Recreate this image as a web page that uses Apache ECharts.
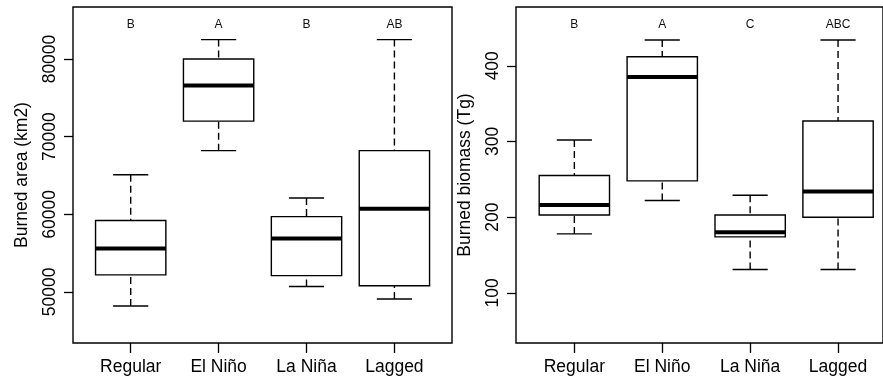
<!DOCTYPE html>
<html>
<head>
<meta charset="utf-8">
<script src="https://cdn.jsdelivr.net/npm/echarts@6/dist/echarts.min.js"></script>
<style>
html,body{margin:0;padding:0;background:#fff;}
#chart{width:883px;height:380px;}
</style>
</head>
<body>
<div id="chart"></div>
<script>
// Categories
const categories = ['Regular', 'El Niño', 'La Niña', 'Lagged'];

// Burned area (km2): [lower whisker, Q1, median, Q3, upper whisker]
const areaRegular = [48200, 52200, 55600, 59200, 65100];
const areaElNino  = [68200, 72000, 76600, 80000, 82500];
const areaLaNina  = [50700, 52100, 56900, 59700, 62100];
const areaLagged  = [49100, 50800, 60700, 68200, 82500];
const areaLetters = ['B', 'A', 'B', 'AB'];
const areaTicks = [50000, 60000, 70000, 80000];

// Burned biomass (Tg): [lower whisker, Q1, median, Q3, upper whisker]
const bioRegular = [178, 203, 216, 255, 302];
const bioElNino  = [222, 248, 385, 412, 434];
const bioLaNina  = [131, 174, 180, 203, 229];
const bioLagged  = [131, 200, 234, 327, 434];
const bioLetters = ['B', 'A', 'C', 'ABC'];
const bioTicks = [100, 200, 300, 400];

const FONT = '"Liberation Sans", Arial, Helvetica, sans-serif';

function rows(list) {
  return list.map((v, i) => [i].concat(v));
}

function makeRender(letters) {
  return function (params, api) {
    const i = api.value(0);
    const lo = api.coord([i, api.value(1)]);
    const q1 = api.coord([i, api.value(2)]);
    const md = api.coord([i, api.value(3)]);
    const q3 = api.coord([i, api.value(4)]);
    const hi = api.coord([i, api.value(5)]);
    const band = api.size([1, 0])[0];
    const cx = md[0];
    const hw = band * 0.4, cw = band * 0.2;
    const stroke = '#000';
    return {
      type: 'group',
      children: [
        {type: 'line', shape: {x1: cx, y1: hi[1], x2: cx, y2: q3[1]},
         style: {stroke, lineWidth: 1.4, lineDash: [7, 4]}},
        {type: 'line', shape: {x1: cx, y1: lo[1], x2: cx, y2: q1[1]},
         style: {stroke, lineWidth: 1.4, lineDash: [7, 4]}},
        {type: 'line', shape: {x1: cx - cw, y1: hi[1], x2: cx + cw, y2: hi[1]},
         style: {stroke, lineWidth: 1.4}},
        {type: 'line', shape: {x1: cx - cw, y1: lo[1], x2: cx + cw, y2: lo[1]},
         style: {stroke, lineWidth: 1.4}},
        {type: 'rect', shape: {x: cx - hw, y: q3[1], width: 2 * hw, height: q1[1] - q3[1]},
         style: {fill: '#fff', stroke, lineWidth: 1.4}},
        {type: 'line', shape: {x1: cx - hw, y1: md[1], x2: cx + hw, y2: md[1]},
         style: {stroke, lineWidth: 4}},
        {type: 'text', x: cx, y: params.coordSys.y + 18,
         style: {text: letters[i], fill: '#111', font: '12px ' + FONT,
                 align: 'center', verticalAlign: 'middle'}}
      ]
    };
  };
}

const chart = echarts.init(document.getElementById('chart'), null, {renderer: 'canvas'});

const TOP = 7, H = 336, FW = 379, DW = 351.6;
const LFL = 73, LDL = 86.75, RFL = 516, RDL = 530.4;

function frameY(min, max, ticks, name) {
  return {
    type: 'value', min, max, splitLine: {show: false},
    axisLine: {show: false},
    axisTick: {show: true, length: 9, customValues: ticks, lineStyle: {color: '#000', width: 1.3}},
    axisLabel: {customValues: ticks, rotate: 90, margin: 14, fontSize: 17.5,
                fontFamily: FONT, color: '#000', formatter: v => String(v)},
    name, nameLocation: 'middle', nameGap: 42,
    nameTextStyle: {fontSize: 17.5, fontFamily: FONT, color: '#000'}
  };
}
function hiddenY(min, max, gi) {
  return {type: 'value', gridIndex: gi, min, max, show: false, splitLine: {show: false}};
}
function catX(gi) {
  return {
    type: 'category', gridIndex: gi, data: categories,
    axisLine: {show: false},
    axisTick: {show: true, alignWithLabel: true, length: 10, lineStyle: {color: '#000', width: 1.3}},
    axisLabel: {fontSize: 17.5, fontFamily: FONT, color: '#000', margin: 15},
    splitLine: {show: false}
  };
}

const aMin = 43425, aMax = 86700, bMin = 33.9, bMax = 477.6;

const yL = frameY(aMin, aMax, areaTicks, 'Burned area (km2)'); yL.gridIndex = 0;
const yR = frameY(bMin, bMax, bioTicks, 'Burned biomass (Tg)'); yR.gridIndex = 2;

chart.setOption({
  animation: false,
  backgroundColor: '#fff',
  textStyle: {fontFamily: FONT},
  grid: [
    {left: LFL, top: TOP, width: FW, height: H, show: true, borderColor: '#000', borderWidth: 1.4, backgroundColor: 'transparent'},
    {left: LDL, top: TOP, width: DW, height: H},
    {left: RFL, top: TOP, width: FW, height: H, show: true, borderColor: '#000', borderWidth: 1.4, backgroundColor: 'transparent'},
    {left: RDL, top: TOP, width: DW, height: H}
  ],
  xAxis: [
    {type: 'value', gridIndex: 0, min: 0, max: 1, show: false},
    catX(1),
    {type: 'value', gridIndex: 2, min: 0, max: 1, show: false},
    catX(3)
  ],
  yAxis: [
    yL,
    hiddenY(aMin, aMax, 1),
    yR,
    hiddenY(bMin, bMax, 3)
  ],
  series: [
    {type: 'custom', xAxisIndex: 1, yAxisIndex: 1,
     data: rows([areaRegular, areaElNino, areaLaNina, areaLagged]),
     encode: {x: 0, y: [1, 2, 3, 4, 5]},
     renderItem: makeRender(areaLetters), clip: false},
    {type: 'custom', xAxisIndex: 3, yAxisIndex: 3,
     data: rows([bioRegular, bioElNino, bioLaNina, bioLagged]),
     encode: {x: 0, y: [1, 2, 3, 4, 5]},
     renderItem: makeRender(bioLetters), clip: false}
  ]
});
</script>
</body>
</html>
